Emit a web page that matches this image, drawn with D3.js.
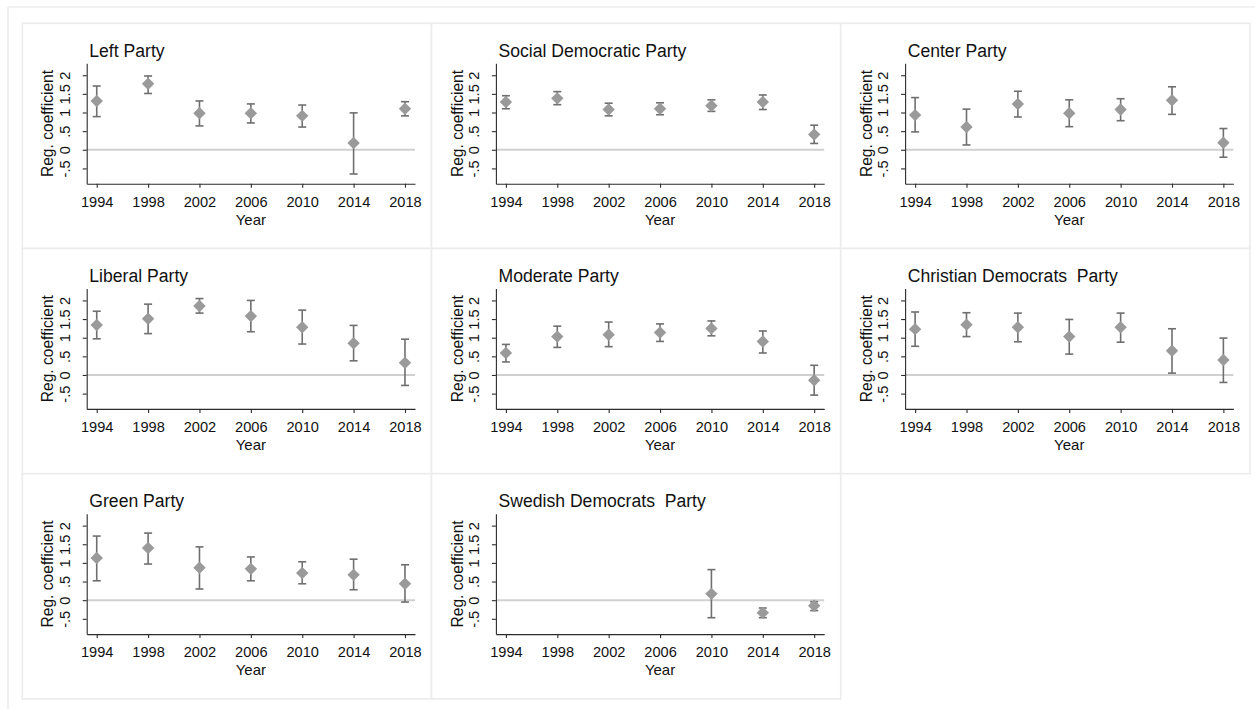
<!DOCTYPE html>
<html>
<head>
<meta charset="utf-8">
<script src="https://cdn.jsdelivr.net/npm/d3@7"></script>
<style>
  html, body { margin: 0; padding: 0; background: #fff; }
  svg { display: block; }
  svg text { font-family: "Liberation Sans", Arial, Helvetica, sans-serif; white-space: pre; }
</style>
</head>
<body>
<svg id="chart" width="1255" height="709"></svg>
<script>
// ---------- data ----------
const years = [1994, 1998, 2002, 2006, 2010, 2014, 2018];
const yTickValues = [-0.5, 0, 0.5, 1, 1.5, 2];
const yTickLabels = ["-.5", "0", ".5", "1", "1.5", "2"];
const partyNames = ["Left Party", "Social Democratic Party", "Center Party",
  "Liberal Party", "Moderate Party", "Christian Democrats  Party",
  "Green Party", "Swedish Democrats  Party"];

const estLeft = [1.31, 1.77, 0.98, 0.98, 0.91, 0.18, 1.10];
const loLeft  = [0.89, 1.51, 0.64, 0.72, 0.61, -0.65, 0.91];
const hiLeft  = [1.71, 1.98, 1.31, 1.23, 1.20, 0.99, 1.29];

const estSocDem = [1.28, 1.38, 1.08, 1.10, 1.18, 1.28, 0.41];
const loSocDem  = [1.10, 1.21, 0.91, 0.94, 1.03, 1.08, 0.17];
const hiSocDem  = [1.45, 1.56, 1.25, 1.26, 1.34, 1.47, 0.66];

const estCenter = [0.93, 0.61, 1.23, 0.98, 1.08, 1.33, 0.19];
const loCenter  = [0.48, 0.13, 0.88, 0.62, 0.78, 0.95, -0.20];
const hiCenter  = [1.40, 1.09, 1.57, 1.34, 1.37, 1.69, 0.57];

const estLiberal = [1.34, 1.51, 1.85, 1.58, 1.28, 0.85, 0.33];
const loLiberal  = [0.97, 1.11, 1.66, 1.16, 0.83, 0.38, -0.28];
const hiLiberal  = [1.71, 1.90, 2.05, 2.00, 1.74, 1.33, 0.96];

const estModerate = [0.59, 1.03, 1.08, 1.14, 1.25, 0.90, -0.14];
const loModerate  = [0.35, 0.74, 0.76, 0.90, 1.05, 0.59, -0.54];
const hiModerate  = [0.82, 1.31, 1.42, 1.37, 1.45, 1.18, 0.26];

const estChrDem = [1.23, 1.35, 1.28, 1.03, 1.28, 0.65, 0.40];
const loChrDem  = [0.77, 1.03, 0.89, 0.56, 0.88, 0.05, -0.20];
const hiChrDem  = [1.69, 1.67, 1.66, 1.49, 1.66, 1.24, 0.99];

const estGreen = [1.13, 1.40, 0.87, 0.84, 0.73, 0.68, 0.44];
const loGreen  = [0.52, 0.97, 0.30, 0.52, 0.44, 0.28, -0.05];
const hiGreen  = [1.72, 1.80, 1.43, 1.16, 1.03, 1.10, 0.95];

const estSweDem = [null, null, null, null, 0.17, -0.34, -0.15];
const loSweDem  = [null, null, null, null, -0.47, -0.47, -0.28];
const hiSweDem  = [null, null, null, null, 0.82, -0.21, -0.04];

const estAll = [estLeft, estSocDem, estCenter, estLiberal, estModerate, estChrDem, estGreen, estSweDem];
const loAll  = [loLeft, loSocDem, loCenter, loLiberal, loModerate, loChrDem, loGreen, loSweDem];
const hiAll  = [hiLeft, hiSocDem, hiCenter, hiLiberal, hiModerate, hiChrDem, hiGreen, hiSweDem];

// ---------- layout ----------
const FONT = "'Liberation Sans', Arial, Helvetica, sans-serif";
const svg = d3.select("#chart");
const panelX0 = 22.3, panelY0 = 23.3;
const panelW = 409.2, panelH = 225.2;

// outer frame
svg.append("path")
  .attr("d", `M8,709 L8,7 L1255,7`)
  .attr("fill", "none").attr("stroke", "#e6e6e6").attr("stroke-width", 1.2);

const plotL = 64.4, plotR = 392.7, plotT = 40, plotB = 160.4;
const x = d3.scaleLinear().domain([1993.22, 2018.78]).range([plotL, plotR]);
const y = d3.scaleLinear().domain([-0.91, 2.32]).range([plotB, plotT]);

const axisColor = "#2b2b2b";
const barColor = "#6f6f6f";
const markColor = "#9a9a9a";

partyNames.forEach((name, i) => {
  const col = i % 3, row = Math.floor(i / 3);
  const g = svg.append("g")
    .attr("transform", `translate(${panelX0 + col * panelW},${panelY0 + row * panelH})`);

  g.append("rect")
    .attr("x", 0).attr("y", 0).attr("width", panelW).attr("height", panelH)
    .attr("fill", "#fff").attr("stroke", "#ececec").attr("stroke-width", 1.6);

  // zero line
  g.append("line")
    .attr("x1", plotL).attr("x2", plotR)
    .attr("y1", y(0)).attr("y2", y(0))
    .attr("stroke", "#d0d0d0").attr("stroke-width", 2);

  // x axis
  const xAxis = d3.axisBottom(x).tickValues(years).tickFormat(d3.format("d"))
    .tickSizeInner(4).tickSizeOuter(0).tickPadding(3);
  const gx = g.append("g").attr("transform", `translate(0,${plotB})`).call(xAxis)
    .attr("font-family", FONT).attr("font-size", 14.6);
  gx.select(".domain").attr("stroke", axisColor).attr("stroke-width", 1.1);
  gx.selectAll(".tick line").attr("stroke", axisColor).attr("stroke-width", 1.1);
  gx.selectAll(".tick text")
    .attr("fill", "#111")
    .attr("y", 23).attr("dy", null);

  // y axis
  const yAxis = d3.axisLeft(y).tickValues(yTickValues)
    .tickFormat((d, k) => yTickLabels[k])
    .tickSizeInner(4).tickSizeOuter(0);
  const gy = g.append("g").attr("transform", `translate(${plotL},0)`).call(yAxis)
    .attr("font-family", FONT).attr("font-size", 14.6);
  gy.select(".domain").attr("stroke", axisColor).attr("stroke-width", 1.1);
  gy.selectAll(".tick line").attr("stroke", axisColor).attr("stroke-width", 1.1);
  gy.selectAll(".tick text")
    .attr("fill", "#111")
    .attr("x", null).attr("dy", null)
    .attr("text-anchor", "middle")
    .attr("transform", "translate(-17,0) rotate(-90)");

  // axis titles
  g.append("text")
    .attr("x", (plotL + plotR) / 2).attr("y", 201.5)
    .attr("text-anchor", "middle").attr("font-size", 15).attr("fill", "#111")
    .text("Year");
  g.append("text")
    .attr("transform", `translate(31,${(plotT + plotB) / 2}) rotate(-90)`)
    .attr("text-anchor", "middle").attr("font-size", 15.6).attr("fill", "#111")
    .text("Reg. coefficient");

  // panel title
  g.append("text")
    .attr("x", plotL + 2.6).attr("y", 33.4)
    .attr("font-size", 17.6).attr("fill", "#111")
    .attr("xml:space", "preserve")
    .text(name);

  // data
  const pts = years.map((yr, k) => ({yr, est: estAll[i][k], lo: loAll[i][k], hi: hiAll[i][k]}))
    .filter(d => d.est !== null);

  const capW = 4;
  const eb = g.append("g").attr("stroke", barColor).attr("stroke-width", 1.6).attr("fill", "none");
  eb.selectAll("line.v").data(pts).join("line").attr("class", "v")
    .attr("x1", d => x(d.yr)).attr("x2", d => x(d.yr))
    .attr("y1", d => y(d.lo)).attr("y2", d => y(d.hi));
  eb.selectAll("line.ct").data(pts).join("line").attr("class", "ct")
    .attr("x1", d => x(d.yr) - capW).attr("x2", d => x(d.yr) + capW)
    .attr("y1", d => y(d.hi)).attr("y2", d => y(d.hi));
  eb.selectAll("line.cb").data(pts).join("line").attr("class", "cb")
    .attr("x1", d => x(d.yr) - capW).attr("x2", d => x(d.yr) + capW)
    .attr("y1", d => y(d.lo)).attr("y2", d => y(d.lo));

  const r = 6.2;
  g.selectAll("path.mk").data(pts).join("path").attr("class", "mk")
    .attr("d", d => {
      const cx = x(d.yr), cy = y(d.est);
      return `M${cx},${cy - r} L${cx + r},${cy} L${cx},${cy + r} L${cx - r},${cy} Z`;
    })
    .attr("fill", markColor);
});
</script>
</body>
</html>
